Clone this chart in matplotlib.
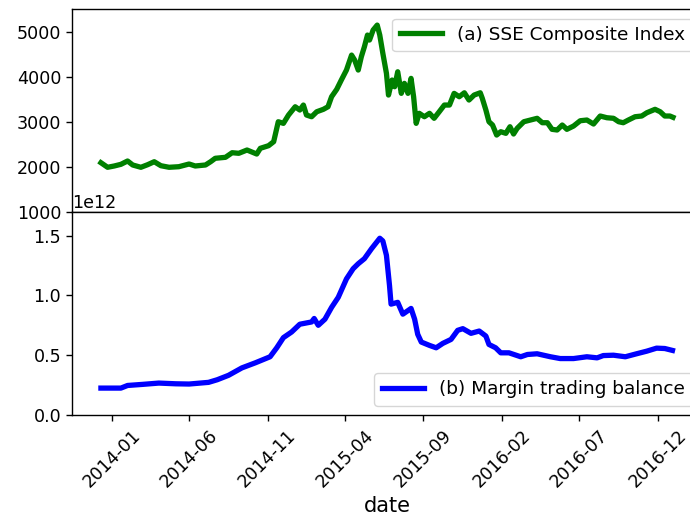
import matplotlib

matplotlib.use("Agg")
import matplotlib.pyplot as plt
import matplotlib.dates as mdates
import pandas as pd

# SSE Composite Index
sse_dates = [
    "2013-12-11", "2013-12-24", "2014-01-06", "2014-01-19", "2014-02-01", "2014-02-11",
    "2014-02-27", "2014-03-12", "2014-03-25", "2014-04-07", "2014-04-23", "2014-05-12",
    "2014-06-01", "2014-06-13", "2014-07-03", "2014-07-13", "2014-07-22", "2014-08-11",
    "2014-08-24", "2014-09-06", "2014-09-22", "2014-10-11", "2014-10-18", "2014-11-03",
    "2014-11-13", "2014-11-22", "2014-12-02", "2014-12-12", "2014-12-25", "2015-01-03",
    "2015-01-10", "2015-01-16", "2015-01-26", "2015-02-05", "2015-02-18", "2015-02-27",
    "2015-03-06", "2015-03-16", "2015-03-25", "2015-04-04", "2015-04-14", "2015-04-20",
    "2015-04-27", "2015-05-03", "2015-05-09", "2015-05-15", "2015-05-19", "2015-05-26",
    "2015-06-03", "2015-06-08", "2015-06-14", "2015-06-21", "2015-06-25", "2015-07-02",
    "2015-07-07", "2015-07-13", "2015-07-20", "2015-07-26", "2015-08-02", "2015-08-08",
    "2015-08-13", "2015-08-18", "2015-08-24", "2015-09-03", "2015-09-13", "2015-09-22",
    "2015-10-02", "2015-10-12", "2015-10-22", "2015-10-31", "2015-11-10", "2015-11-20",
    "2015-11-29", "2015-12-09", "2015-12-21", "2015-12-25", "2016-01-01", "2016-01-07",
    "2016-01-14", "2016-01-22", "2016-01-30", "2016-02-09", "2016-02-17", "2016-02-24",
    "2016-03-02", "2016-03-15", "2016-03-28", "2016-04-10", "2016-04-20", "2016-04-30",
    "2016-05-09", "2016-05-19", "2016-05-29", "2016-06-07", "2016-06-20", "2016-07-03",
    "2016-07-16", "2016-07-29", "2016-08-11", "2016-08-24", "2016-09-06", "2016-09-16",
    "2016-09-25", "2016-10-05", "2016-10-18", "2016-10-31", "2016-11-10", "2016-11-26",
    "2016-12-06", "2016-12-15", "2016-12-25", "2016-12-31",
]
sse_close = [
    2089, 1987, 2016, 2053, 2127, 2038,
    1987, 2044, 2111, 2022, 1987, 2000,
    2060, 2016, 2038, 2111, 2187, 2209,
    2311, 2298, 2371, 2282, 2409, 2467,
    2556, 3000, 2964, 3149, 3333, 3260,
    3371, 3149, 3111, 3222, 3276, 3333,
    3556, 3720, 3927, 4149, 4482, 4371,
    4149, 4444, 4667, 4927, 4816, 5038,
    5149, 4927, 4520, 4076, 3593, 3927,
    3778, 4111, 3631, 3853, 3631, 3964,
    3556, 2964, 3187, 3111, 3187, 3076,
    3222, 3371, 3371, 3631, 3556, 3644,
    3482, 3593, 3644, 3520, 3260, 3000,
    2927, 2704, 2778, 2742, 2889, 2727,
    2853, 3000, 3038, 3076, 2978, 2978,
    2831, 2816, 2927, 2831, 2904, 3022,
    3038, 2949, 3127, 3089, 3076, 3000,
    2978, 3038, 3111, 3127, 3200, 3276,
    3222, 3127, 3127, 3098,
]

# Margin trading balance, in units of 1e12
margin_dates = [
    "2013-12-11", "2014-01-19", "2014-02-01", "2014-03-02", "2014-04-03", "2014-05-06",
    "2014-06-01", "2014-07-09", "2014-07-26", "2014-08-17", "2014-09-12", "2014-10-08",
    "2014-11-06", "2014-11-19", "2014-12-02", "2014-12-18", "2015-01-03", "2015-01-26",
    "2015-01-31", "2015-02-08", "2015-02-21", "2015-03-06", "2015-03-19", "2015-04-04",
    "2015-04-17", "2015-04-27", "2015-05-09", "2015-05-23", "2015-06-08", "2015-06-14",
    "2015-06-21", "2015-06-27", "2015-06-30", "2015-07-13", "2015-07-23", "2015-08-08",
    "2015-08-15", "2015-08-21", "2015-08-28", "2015-09-13", "2015-09-26", "2015-10-09",
    "2015-10-25", "2015-11-07", "2015-11-17", "2015-12-03", "2015-12-19", "2016-01-01",
    "2016-01-07", "2016-01-20", "2016-01-30", "2016-02-15", "2016-03-09", "2016-03-22",
    "2016-04-10", "2016-05-06", "2016-05-25", "2016-06-20", "2016-07-16", "2016-08-05",
    "2016-08-17", "2016-09-06", "2016-09-29", "2016-10-21", "2016-11-10", "2016-11-29",
    "2016-12-15", "2016-12-30",
]
margin_balance = [
    0.225, 0.225, 0.247, 0.256, 0.267, 0.261,
    0.259, 0.273, 0.295, 0.332, 0.394, 0.436,
    0.487, 0.562, 0.647, 0.694, 0.759, 0.778,
    0.807, 0.750, 0.801, 0.900, 0.984, 1.138,
    1.223, 1.265, 1.307, 1.391, 1.478, 1.455,
    1.335, 1.082, 0.927, 0.942, 0.843, 0.891,
    0.801, 0.675, 0.610, 0.582, 0.562, 0.599,
    0.632, 0.708, 0.722, 0.683, 0.702, 0.660,
    0.590, 0.562, 0.520, 0.520, 0.487, 0.506,
    0.512, 0.487, 0.472, 0.472, 0.487, 0.478,
    0.497, 0.500, 0.487, 0.512, 0.534, 0.559,
    0.556, 0.540,
]

tick_dates = ["2014-01-01", "2014-06-01", "2014-11-01", "2015-04-01",
              "2015-09-01", "2016-02-01", "2016-07-01", "2016-12-01"]


def main() -> None:
    sse_x = pd.to_datetime(sse_dates)
    margin_x = pd.to_datetime(margin_dates)
    margin_y = [v * 1e12 for v in margin_balance]

    fig = plt.figure(figsize=(6.9, 5.25), dpi=100)
    ax1 = fig.add_axes([0.1048, 0.5968, 0.912, 0.3855])
    ax2 = fig.add_axes([0.1048, 0.2095, 0.912, 0.3873], sharex=ax1)

    ax1.plot(sse_x, sse_close, color="green", lw=3.8, label="(a) SSE Composite Index")
    ax2.plot(margin_x, margin_y, color="blue", lw=3.8, label="(b) Margin trading balance")

    ax1.set_ylim(1000, 5500)
    ax1.set_yticks([1000, 2000, 3000, 4000, 5000])
    ax2.set_ylim(0, 1.7e12)
    ax2.set_yticks([0, 0.5e12, 1.0e12, 1.5e12])

    ax2.set_xticks(pd.to_datetime(tick_dates))
    ax2.xaxis.set_major_formatter(mdates.DateFormatter("%Y-%m"))
    plt.setp(ax1.get_xticklabels(), visible=False)
    ax1.tick_params(axis="x", length=0)

    for ax in (ax1, ax2):
        ax.tick_params(labelsize=12.6, length=4.5, width=1.0)
        for s in ax.spines.values():
            s.set_linewidth(1.0)
    ax2.yaxis.get_offset_text().set_fontsize(12.6)

    for lbl in ax2.get_xticklabels():
        lbl.set_rotation(45)
        lbl.set_ha("center")
    ax2.set_xlabel("date", fontsize=15)

    ax1.legend(loc="upper right", fontsize=13.3, handlelength=2.3)
    ax2.legend(loc="lower right", fontsize=13.3, handlelength=2.3)

    fig.savefig("out.png", dpi=100)


if __name__ == "__main__":
    main()
